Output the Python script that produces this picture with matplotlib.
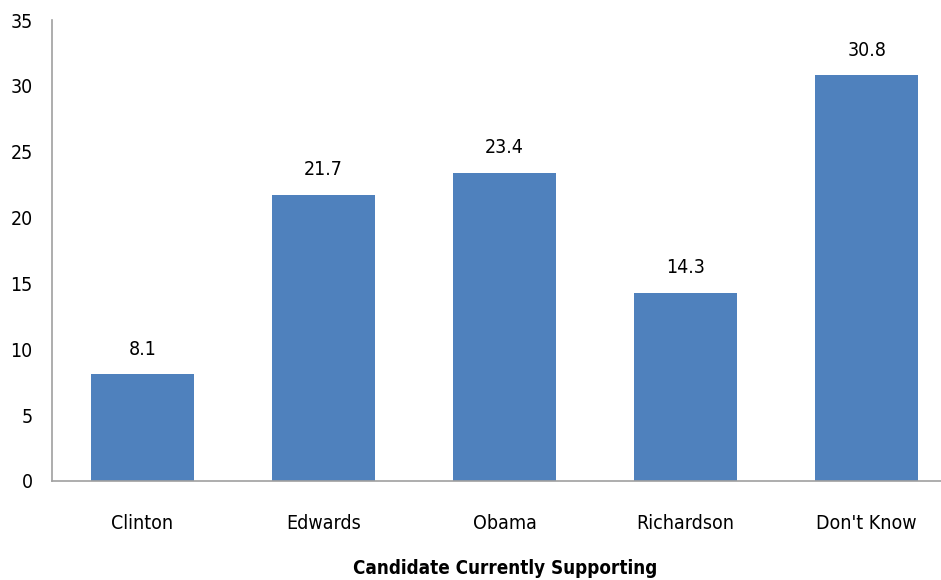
import matplotlib.pyplot as plt
from matplotlib import font_manager

# Data
candidates = ['Clinton', 'Edwards', 'Obama', 'Richardson', "Don't Know"]
percent = [8.1, 21.7, 23.4, 14.3, 30.8]

names = {f.name for f in font_manager.fontManager.ttflist}
family = ['Liberation Sans Narrow'] if 'Liberation Sans Narrow' in names else ['DejaVu Sans']
plt.rcParams['font.family'] = family + ['DejaVu Sans']
plt.rcParams['font.stretch'] = 'condensed'

fig = plt.figure(figsize=(9.41, 5.8), dpi=100)
ax = fig.add_axes([52 / 941, 99 / 580, 889 / 941, 461 / 580])

x = range(len(candidates))
bars = ax.bar(x, percent, width=0.57, color='#4F81BD')
for xi, v in zip(x, percent):
    ax.text(xi, v + 1.2, f'{v}', ha='center', va='bottom', fontsize=14)

ax.set_xlim(-0.5, 4.41)
ax.set_ylim(0, 35)
ax.set_yticks(range(0, 36, 5))
ax.set_xticks(list(x))
ax.set_xticklabels(candidates)
ax.tick_params(length=0, labelsize=14, pad=14)
ax.tick_params(axis='x', pad=24)
for s in ['top', 'right']:
    ax.spines[s].set_visible(False)
for s in ['left', 'bottom']:
    ax.spines[s].set_color('#A0A0A0')
    ax.spines[s].set_linewidth(1.2)

fig.text(505 / 941, 1 - 568 / 580, 'Candidate Currently Supporting',
         ha='center', va='center', fontsize=13.5, fontweight='bold')

plt.savefig('out.png', dpi=100)
